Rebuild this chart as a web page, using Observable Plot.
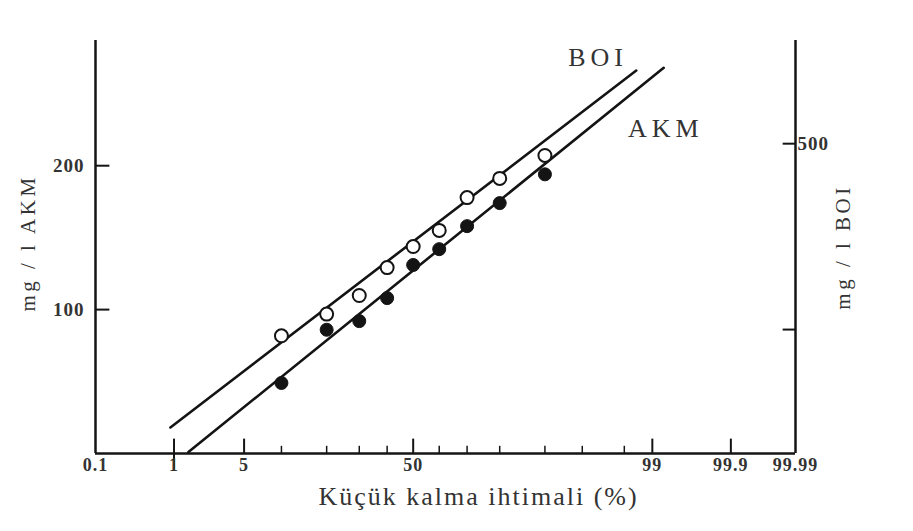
<!DOCTYPE html>
<html><head><meta charset="utf-8">
<script src="https://cdn.jsdelivr.net/npm/d3@7"></script>
<script src="https://cdn.jsdelivr.net/npm/@observablehq/plot@0.6"></script>
<style>body{margin:0;background:#fff;} #chart svg{display:block;}</style>
</head><body><div id="chart"></div>
<script>
// ---- data ----
const probMajor = [0.1, 1, 5, 50, 99, 99.9, 99.99];      // labelled probability ticks (%)
const probMinor = [10, 20, 30, 40, 60, 70, 80, 90, 95, 98]; // unlabelled ticks (%)
const probPoints = [10, 20, 30, 40, 50, 60, 70, 80, 90];    // plotting positions (%)
const akmValues = [49, 86, 92, 108, 131, 142, 158, 174, 194]; // mg/l AKM (filled)
const boiValues = [190, 225, 255, 300, 334, 360, 413, 444, 481]; // mg/l BOI (open)
const akmTicks = [100, 200];
const boiTicks = [200, 500];
const boiLabeled = [500];
const boiLineP = [0.91, 98.5], boiLineV = [42, 618];
const akmLineP = [1.44, 99.26], akmLineV = [1, 268];
const seriesNames = ["BOI", "AKM"];
const seriesLabelP = [96.4, 99.3];
const seriesLabelV = [275, 226];   // in AKM-axis units
const boiPerAkm = 500 / 215.3;     // right axis vs left axis

// inverse normal CDF (probability paper)
function probit(pct) {
  const p = pct / 100;
  const a=[-3.969683028665376e+01,2.209460984245205e+02,-2.759285104469687e+02,1.383577518672690e+02,-3.066479806614716e+01,2.506628277459239e+00];
  const b=[-5.447609879822406e+01,1.615858368580409e+02,-1.556989798598866e+02,6.680131188771972e+01,-1.328068155288572e+01];
  const c=[-7.784894002430293e-03,-3.223964580411365e-01,-2.400758277161838e+00,-2.549732539343734e+00,4.374664141464968e+00,2.938163982698783e+00];
  const d=[7.784695709041462e-03,3.224671290700398e-01,2.445134137142996e+00,3.754408661907416e+00];
  const pl = 0.02425, ph = 1 - pl;
  let q, r;
  if (p < pl) { q = Math.sqrt(-2*Math.log(p)); return (((((c[0]*q+c[1])*q+c[2])*q+c[3])*q+c[4])*q+c[5])/((((d[0]*q+d[1])*q+d[2])*q+d[3])*q+1); }
  if (p <= ph) { q = p - 0.5; r = q*q; return (((((a[0]*r+a[1])*r+a[2])*r+a[3])*r+a[4])*r+a[5])*q/(((((b[0]*r+b[1])*r+b[2])*r+b[3])*r+b[4])*r+1); }
  q = Math.sqrt(-2*Math.log(1-p)); return -(((((c[0]*q+c[1])*q+c[2])*q+c[3])*q+c[4])*q+c[5])/((((d[0]*q+d[1])*q+d[2])*q+d[3])*q+1);
}

const zMin = probit(probMajor[0]), zMax = probit(probMajor[probMajor.length - 1]);
const majorZ = probMajor.map(probit);
const ink = "#141414";
const textInk = "#333";

const boiLine = boiLineP.map((p, i) => ({p, v: boiLineV[i] / boiPerAkm}));
const akmLine = akmLineP.map((p, i) => ({p, v: akmLineV[i]}));
const boiPts = probPoints.map((p, i) => ({p, v: boiValues[i] / boiPerAkm}));
const akmPts = probPoints.map((p, i) => ({p, v: akmValues[i]}));
const labels = seriesNames.map((n, i) => ({n, p: seriesLabelP[i], v: seriesLabelV[i]}));

const chart = Plot.plot({
  width: 913, height: 531,
  marginLeft: 95, marginRight: 118, marginTop: 40, marginBottom: 78,
  style: {fontFamily: "'Liberation Serif', serif", fontSize: "18px", color: textInk, background: "#fff"},
  x: {type: "linear", domain: [zMin, zMax]},
  y: {domain: [0, 287]},
  marks: [
    Plot.ruleY([0], {stroke: ink, strokeWidth: 2.5}),
    Plot.ruleX([zMin, zMax], {stroke: ink, strokeWidth: 2.5}),
    Plot.ruleX(probMajor.slice(1, -1), {x: probit, y1: 0, y2: 10, stroke: ink, strokeWidth: 2}),
    Plot.ruleX(probMinor, {x: probit, y1: 0, y2: 5, stroke: ink, strokeWidth: 1.5}),
    Plot.ruleX([1], {x: probit, y1: -12, y2: 0, stroke: ink, strokeWidth: 2}),
    Plot.ruleY(akmTicks, {x1: zMin, x2: zMin + 0.14, stroke: ink, strokeWidth: 2}),
    Plot.ruleY(boiTicks, {y: b => b / boiPerAkm, x1: zMax - 0.12, x2: zMax, stroke: ink, strokeWidth: 2}),
    Plot.axisX({ticks: majorZ, tickSize: 0, tickPadding: 5, label: null, fontWeight: "bold",
      tickFormat: z => { let k = 0; majorZ.forEach((m, i) => { if (Math.abs(m - z) < Math.abs(majorZ[k] - z)) k = i; }); return String(probMajor[k]); }}),
    Plot.axisY({ticks: akmTicks, tickSize: 0, tickPadding: 11, label: null, fontWeight: "bold", fontSize: 19}),
    Plot.axisY({anchor: "right", ticks: boiLabeled.map(b => b / boiPerAkm), tickSize: 0, tickPadding: 2, label: null, fontWeight: "bold", fontSize: 19,
      tickFormat: d => String(Math.round(d * boiPerAkm))}),
    Plot.line(boiLine, {x: d => probit(d.p), y: "v", stroke: ink, strokeWidth: 2.6}),
    Plot.line(akmLine, {x: d => probit(d.p), y: "v", stroke: ink, strokeWidth: 2.6}),
    Plot.dot(boiPts, {x: d => probit(d.p), y: "v", r: 6.5, fill: "white", stroke: ink, strokeWidth: 2}),
    Plot.dot(akmPts, {x: d => probit(d.p), y: "v", r: 6.5, fill: ink, stroke: ink, strokeWidth: 1}),
    Plot.text(labels, {x: d => probit(d.p), y: "v", text: "n", fontSize: 26, fill: textInk, className: "wide"}),
    Plot.text(["mg / l AKM"], {frameAnchor: "left", textAnchor: "middle", rotate: -90, dx: -67, dy: -4, fontSize: 21, fill: textInk, className: "title"}),
    Plot.text(["mg / l BOI"], {frameAnchor: "right", textAnchor: "middle", rotate: -90, dx: 48, fontSize: 21, fill: textInk, className: "title"}),
    Plot.text(["Küçük kalma ihtimali (%)"], {frameAnchor: "bottom", dy: 51, dx: 33, fontSize: 26, fill: textInk, className: "xtitle"})
  ]
});
d3.select(chart).selectAll("text").style("letter-spacing", "1px");
d3.select(chart).selectAll(".title text").style("letter-spacing", "3.5px");
d3.select(chart).selectAll(".xtitle text").style("letter-spacing", "2px");
d3.select(chart).selectAll(".wide text").style("letter-spacing", "5px");
document.getElementById("chart").append(chart);
</script>
</body></html>
